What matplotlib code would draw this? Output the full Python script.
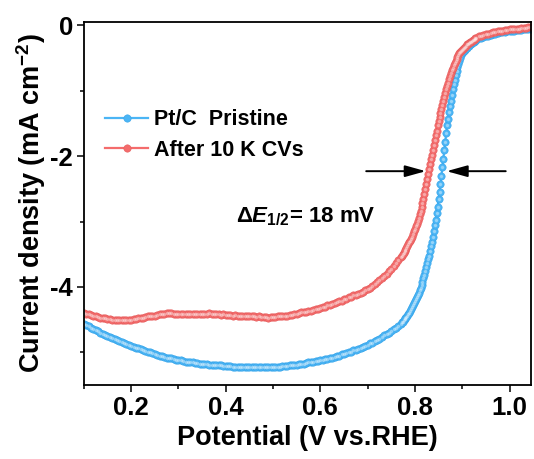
import numpy as np
import matplotlib
matplotlib.use("Agg")
import matplotlib.pyplot as plt

plt.rcParams["font.family"] = ["Liberation Sans", "DejaVu Sans"]
plt.rcParams["font.weight"] = "bold"
plt.rcParams["mathtext.fontset"] = "custom"
plt.rcParams["mathtext.rm"] = "Liberation Sans:bold"
plt.rcParams["mathtext.it"] = "Liberation Sans:italic:bold"
plt.rcParams["mathtext.bf"] = "Liberation Sans:bold"

# potential sweep: 5 mV steps, 2 mV through the onset region
SWEEP_SEGMENTS = [(0.100, 0.770, 0.005), (0.772, 0.930, 0.002), (0.935, 1.045, 0.005)]

PRISTINE = [
    # 0.100 - 0.770 V
    -4.56, -4.58, -4.60, -4.62, -4.64, -4.66, -4.68, -4.70, -4.72, -4.74,
    -4.75, -4.77, -4.78, -4.80, -4.81, -4.83, -4.84, -4.86, -4.87, -4.89,
    -4.90, -4.91, -4.93, -4.94, -4.95, -4.97, -4.98, -4.99, -5.00, -5.01,
    -5.03, -5.04, -5.05, -5.06, -5.07, -5.08, -5.09, -5.09, -5.10, -5.11,
    -5.12, -5.12, -5.13, -5.14, -5.14, -5.15, -5.15, -5.16, -5.16, -5.17,
    -5.17, -5.18, -5.18, -5.19, -5.19, -5.19, -5.20, -5.20, -5.20, -5.21,
    -5.21, -5.21, -5.21, -5.22, -5.22, -5.22, -5.22, -5.22, -5.22, -5.22,
    -5.23, -5.23, -5.23, -5.23, -5.23, -5.23, -5.23, -5.23, -5.23, -5.23,
    -5.23, -5.22, -5.22, -5.22, -5.21, -5.21, -5.21, -5.20, -5.20, -5.19,
    -5.19, -5.18, -5.17, -5.17, -5.16, -5.15, -5.15, -5.14, -5.13, -5.13,
    -5.12, -5.11, -5.10, -5.10, -5.09, -5.08, -5.07, -5.06, -5.05, -5.03,
    -5.02, -5.01, -5.00, -4.99, -4.97, -4.96, -4.95, -4.93, -4.92, -4.90,
    -4.88, -4.86, -4.85, -4.83, -4.81, -4.79, -4.77, -4.74, -4.72, -4.70,
    -4.67, -4.65, -4.62, -4.59, -4.56,
    # 0.772 - 0.930 V
    -4.54, -4.53, -4.51, -4.49, -4.48, -4.46, -4.44, -4.42, -4.40, -4.37,
    -4.34, -4.31, -4.28, -4.25, -4.22, -4.19, -4.16, -4.13, -4.09, -4.05,
    -4.01, -3.97, -3.92, -3.87, -3.82, -3.76, -3.70, -3.64, -3.58, -3.52,
    -3.45, -3.38, -3.31, -3.23, -3.15, -3.06, -2.97, -2.87, -2.77, -2.66,
    -2.55, -2.43, -2.30, -2.17, -2.04, -1.91, -1.78, -1.65, -1.53, -1.43,
    -1.33, -1.24, -1.15, -1.06, -0.98, -0.90, -0.83, -0.76, -0.70, -0.64,
    -0.59, -0.54, -0.50, -0.46, -0.43, -0.41, -0.39, -0.37, -0.35, -0.34,
    -0.32, -0.31, -0.29, -0.28, -0.27, -0.26, -0.25, -0.24, -0.23, -0.22,
    # 0.935 - 1.045 V
    -0.20, -0.19, -0.18, -0.17, -0.16, -0.15, -0.14, -0.13, -0.12, -0.11,
    -0.11, -0.10, -0.09, -0.09, -0.08, -0.08, -0.07, -0.07, -0.07, -0.06,
    -0.06, -0.06, -0.06,
]

AFTER_CV = [
    # 0.100 - 0.770 V
    -4.40, -4.41, -4.42, -4.43, -4.44, -4.45, -4.46, -4.47, -4.47, -4.48,
    -4.49, -4.49, -4.50, -4.50, -4.51, -4.51, -4.51, -4.51, -4.50, -4.50,
    -4.50, -4.49, -4.49, -4.48, -4.47, -4.47, -4.46, -4.45, -4.45, -4.44,
    -4.44, -4.43, -4.42, -4.42, -4.41, -4.40, -4.40, -4.40, -4.41, -4.41,
    -4.42, -4.41, -4.41, -4.42, -4.41, -4.41, -4.42, -4.41, -4.42, -4.41,
    -4.41, -4.42, -4.41, -4.40, -4.41, -4.42, -4.42, -4.42, -4.43, -4.42,
    -4.43, -4.43, -4.43, -4.44, -4.43, -4.44, -4.44, -4.44, -4.45, -4.44,
    -4.45, -4.45, -4.45, -4.46, -4.45, -4.46, -4.46, -4.46, -4.47, -4.46,
    -4.46, -4.46, -4.45, -4.45, -4.45, -4.44, -4.44, -4.43, -4.43, -4.42,
    -4.41, -4.40, -4.39, -4.38, -4.38, -4.37, -4.36, -4.35, -4.34, -4.33,
    -4.32, -4.31, -4.30, -4.28, -4.27, -4.26, -4.25, -4.23, -4.22, -4.21,
    -4.19, -4.18, -4.16, -4.15, -4.13, -4.12, -4.10, -4.09, -4.07, -4.05,
    -4.03, -4.01, -3.98, -3.96, -3.93, -3.90, -3.87, -3.83, -3.80, -3.76,
    -3.72, -3.68, -3.63, -3.59, -3.54,
    # 0.772 - 0.930 V
    -3.52, -3.50, -3.48, -3.45, -3.43, -3.40, -3.38, -3.35, -3.32, -3.29,
    -3.26, -3.23, -3.19, -3.15, -3.11, -3.07, -3.03, -2.99, -2.94, -2.89,
    -2.84, -2.78, -2.72, -2.65, -2.58, -2.50, -2.43, -2.35, -2.27, -2.20,
    -2.12, -2.05, -1.98, -1.90, -1.83, -1.75, -1.68, -1.61, -1.53, -1.46,
    -1.40, -1.34, -1.28, -1.22, -1.16, -1.10, -1.04, -0.98, -0.93, -0.88,
    -0.82, -0.78, -0.73, -0.69, -0.65, -0.61, -0.58, -0.55, -0.52, -0.49,
    -0.46, -0.43, -0.41, -0.39, -0.37, -0.36, -0.34, -0.33, -0.31, -0.29,
    -0.28, -0.27, -0.26, -0.25, -0.24, -0.23, -0.22, -0.21, -0.20, -0.19,
    # 0.935 - 1.045 V
    -0.17, -0.16, -0.15, -0.14, -0.13, -0.12, -0.11, -0.10, -0.09, -0.09,
    -0.08, -0.07, -0.07, -0.06, -0.06, -0.05, -0.05, -0.05, -0.04, -0.04,
    -0.04, -0.03, -0.03,
]

SERIES = [
    ("Pt/C  Pristine", PRISTINE, "#4bb5f5", "#36a4ea"),
    ("After 10 K CVs", AFTER_CV, "#f46c6c", "#e65c5c"),
]

# half-wave level and the two arrows pointing at it
E_HALF_LEVEL = -2.23
LEFT_ARROW = (0.697, 0.823)
RIGHT_ARROW = (0.992, 0.867)


def sweep():
    parts = [np.arange(a, b + s / 2, s) for a, b, s in SWEEP_SEGMENTS]
    return np.round(np.concatenate(parts), 3)


def main():
    potential = sweep()

    fig = plt.figure(figsize=(5.34, 4.59), dpi=100)
    ax = fig.add_axes([0.157, 0.161, 0.837, 0.791])

    for label, values, face, edge in SERIES:
        ax.plot(potential, values, "-", color=face, lw=1.6, marker="o", ms=5.3,
                mfc=face, mec=edge, mew=0.4, label=label)
        ax.plot(potential, values, "o", color="white", ms=1.6, alpha=0.3)

    for tail, tip in (LEFT_ARROW, RIGHT_ARROW):
        ax.annotate("", xy=(tip, E_HALF_LEVEL), xytext=(tail, E_HALF_LEVEL),
                    arrowprops=dict(arrowstyle="-|>,head_length=0.9,head_width=0.25",
                                    mutation_scale=14, color="black", lw=1.4,
                                    shrinkA=0, shrinkB=0))

    ax.text(0.422, -2.92, r"Δ$\mathit{E}_{\mathit{1/2}}$= 18 mV", fontsize=16,
            fontweight="bold", ha="left", va="center")

    ax.set_xlim(0.1, 1.045)
    ax.set_ylim(-5.5, 0.05)
    ax.set_xticks([0.2, 0.4, 0.6, 0.8, 1.0])
    ax.set_xticks(np.arange(0.1, 1.05, 0.1), minor=True)
    ax.set_yticks([0, -2, -4])
    ax.set_yticks([-1, -3, -5], minor=True)
    ax.set_yticklabels(["0", "-2", "-4"])

    ax.tick_params(which="both", direction="out", width=1.1, labelsize=18.5)
    ax.tick_params(which="major", length=4.7)
    ax.tick_params(which="minor", length=3.2)
    ax.tick_params(axis="x", pad=3)
    ax.tick_params(axis="y", pad=3)
    for spine in ax.spines.values():
        spine.set_linewidth(1.3)

    ax.set_xlabel("Potential (V vs.RHE)", fontsize=19.5, fontweight="bold", labelpad=4)
    ax.set_ylabel(r"Current density (mA cm$^{\mathbf{-2}}$)", fontsize=19.5,
                  fontweight="bold", labelpad=2)

    ax.legend(loc="upper left", bbox_to_anchor=(0.048, 0.76), frameon=False,
              fontsize=15.5, numpoints=1, handlelength=2.0, handletextpad=0.25,
              borderaxespad=0, borderpad=0, labelspacing=0.45)

    fig.savefig("out.png", dpi=100)


if __name__ == "__main__":
    main()
